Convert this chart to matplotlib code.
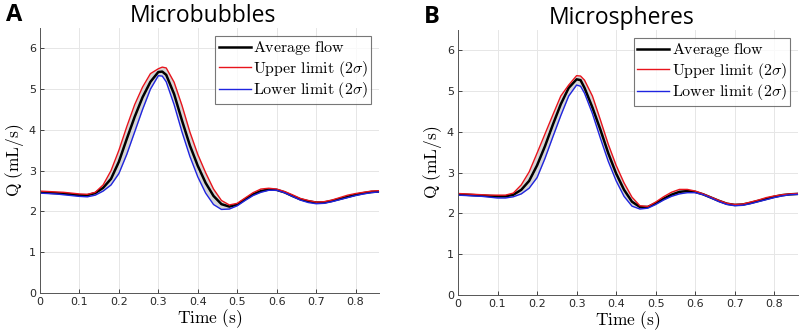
import matplotlib
matplotlib.use("Agg")
import matplotlib.pyplot as plt

plt.rcParams['mathtext.fontset'] = 'cm'

# time axis (s)
t = [0.00, 0.02, 0.04, 0.06, 0.08, 0.10, 0.12, 0.14, 0.16, 0.18, 0.20, 0.22, 0.24, 0.26, 0.28, 0.30, 0.31,
     0.32, 0.34, 0.36, 0.38, 0.40, 0.42, 0.44, 0.46, 0.48, 0.50, 0.52, 0.54, 0.56, 0.58, 0.60, 0.62, 0.64,
     0.66, 0.68, 0.70, 0.72, 0.74, 0.76, 0.78, 0.80, 0.82, 0.84, 0.86]

# A: microbubbles
avg_a = [2.47, 2.46, 2.45, 2.44, 2.42, 2.40, 2.40, 2.45, 2.58, 2.80, 3.22, 3.78, 4.32, 4.80, 5.18, 5.42, 5.43,
         5.35, 4.88, 4.23, 3.62, 3.12, 2.70, 2.38, 2.18, 2.12, 2.17, 2.30, 2.42, 2.50, 2.54, 2.53, 2.47, 2.38,
         2.30, 2.25, 2.22, 2.22, 2.26, 2.31, 2.36, 2.41, 2.45, 2.48, 2.49]
up_a = [2.50, 2.49, 2.48, 2.47, 2.45, 2.43, 2.42, 2.47, 2.65, 3.00, 3.50, 4.08, 4.62, 5.05, 5.38, 5.50, 5.54,
        5.52, 5.17, 4.60, 3.95, 3.40, 2.95, 2.55, 2.27, 2.16, 2.20, 2.33, 2.46, 2.55, 2.57, 2.55, 2.49, 2.41,
        2.32, 2.27, 2.23, 2.24, 2.28, 2.34, 2.40, 2.44, 2.47, 2.50, 2.51]
low_a = [2.45, 2.44, 2.43, 2.41, 2.39, 2.37, 2.36, 2.40, 2.50, 2.65, 2.93, 3.40, 3.95, 4.50, 5.00, 5.33, 5.32,
         5.18, 4.62, 3.95, 3.35, 2.85, 2.45, 2.17, 2.05, 2.06, 2.14, 2.27, 2.39, 2.47, 2.52, 2.52, 2.46, 2.37,
         2.28, 2.22, 2.19, 2.20, 2.24, 2.29, 2.34, 2.39, 2.43, 2.46, 2.48]

# B: microspheres
avg_b = [2.47, 2.46, 2.45, 2.44, 2.43, 2.42, 2.42, 2.46, 2.58, 2.80, 3.18, 3.65, 4.18, 4.68, 5.08, 5.29, 5.27,
         5.08, 4.60, 4.06, 3.48, 2.98, 2.58, 2.29, 2.16, 2.16, 2.25, 2.36, 2.46, 2.53, 2.55, 2.53, 2.47, 2.39,
         2.31, 2.24, 2.21, 2.22, 2.26, 2.31, 2.36, 2.41, 2.45, 2.47, 2.48]
up_b = [2.49, 2.48, 2.47, 2.46, 2.45, 2.45, 2.45, 2.50, 2.70, 3.02, 3.48, 3.95, 4.42, 4.88, 5.15, 5.38, 5.37,
        5.27, 4.88, 4.30, 3.70, 3.18, 2.75, 2.40, 2.19, 2.17, 2.28, 2.41, 2.52, 2.59, 2.59, 2.55, 2.48, 2.40,
        2.32, 2.25, 2.22, 2.23, 2.28, 2.33, 2.39, 2.43, 2.46, 2.48, 2.49]
low_b = [2.45, 2.44, 2.43, 2.42, 2.40, 2.38, 2.38, 2.41, 2.48, 2.62, 2.88, 3.35, 3.88, 4.40, 4.88, 5.15, 5.12,
         4.95, 4.45, 3.85, 3.28, 2.80, 2.42, 2.18, 2.11, 2.13, 2.22, 2.33, 2.42, 2.48, 2.51, 2.51, 2.46, 2.38,
         2.29, 2.22, 2.19, 2.20, 2.24, 2.29, 2.34, 2.39, 2.43, 2.46, 2.47]

titles = ['Microbubbles', 'Microspheres']
letters = ['A', 'B']

fig = plt.figure(figsize=(8, 3.33), dpi=100)
ax_a = fig.add_axes([0.05, 0.12, 0.424, 0.796])
ax_b = fig.add_axes([0.5725, 0.114, 0.425, 0.796])

panels = [(ax_a, avg_a, up_a, low_a), (ax_b, avg_b, up_b, low_b)]
for i, (ax, avg, up, low) in enumerate(panels):
    ax.fill_between(t, low, up, color='#d6d6d6', lw=0)
    ax.plot(t, avg, color='black', lw=1.8, label=r'$\mathrm{Average\ flow}$')
    ax.plot(t, up, color='#e8141c', lw=1.0, label=r'$\mathrm{Upper\ limit\ (2}\sigma\mathrm{)}$')
    ax.plot(t, low, color='#1f24e0', lw=1.0, label=r'$\mathrm{Lower\ limit\ (2}\sigma\mathrm{)}$')

    ax.set_xlim(0, 0.86)
    ax.set_ylim(0, 6.5)
    ax.set_xticks([0, 0.1, 0.2, 0.3, 0.4, 0.5, 0.6, 0.7, 0.8])
    ax.set_xticklabels(['0', '0.1', '0.2', '0.3', '0.4', '0.5', '0.6', '0.7', '0.8'])
    ax.set_yticks([0, 1, 2, 3, 4, 5, 6])
    ax.tick_params(direction='in', labelsize=8, colors='#262626', length=3, width=0.6, pad=3)
    ax.grid(True, color='#e6e6e6', lw=0.7)
    ax.set_axisbelow(True)
    for s in ['top', 'right']:
        ax.spines[s].set_visible(False)
    for s in ['left', 'bottom']:
        ax.spines[s].set_color('#555555')
        ax.spines[s].set_linewidth(0.7)

    ax.set_xlabel(r'$\mathrm{Time\ (s)}$', fontsize=12.5, labelpad=0)
    ax.set_ylabel(r'$\mathrm{Q\ (mL/s)}$', fontsize=12.5, labelpad=2)

    leg = ax.legend(loc='upper right', fontsize=11.5, frameon=True, fancybox=False,
                    handlelength=2.0, handletextpad=0.15, borderpad=0.2, labelspacing=0.1,
                    borderaxespad=0.5)
    leg.get_frame().set_edgecolor('#555555')
    leg.get_frame().set_linewidth(0.8)

    ax.set_title(titles[i], fontsize=16.5, family='Open Sans', pad=3, x=0.48)
    ax.text(-0.1, 1.05, letters[i], transform=ax.transAxes, fontsize=17, fontweight='bold',
            family='Open Sans', va='center', ha='left')

fig.savefig('out.png', dpi=100)
